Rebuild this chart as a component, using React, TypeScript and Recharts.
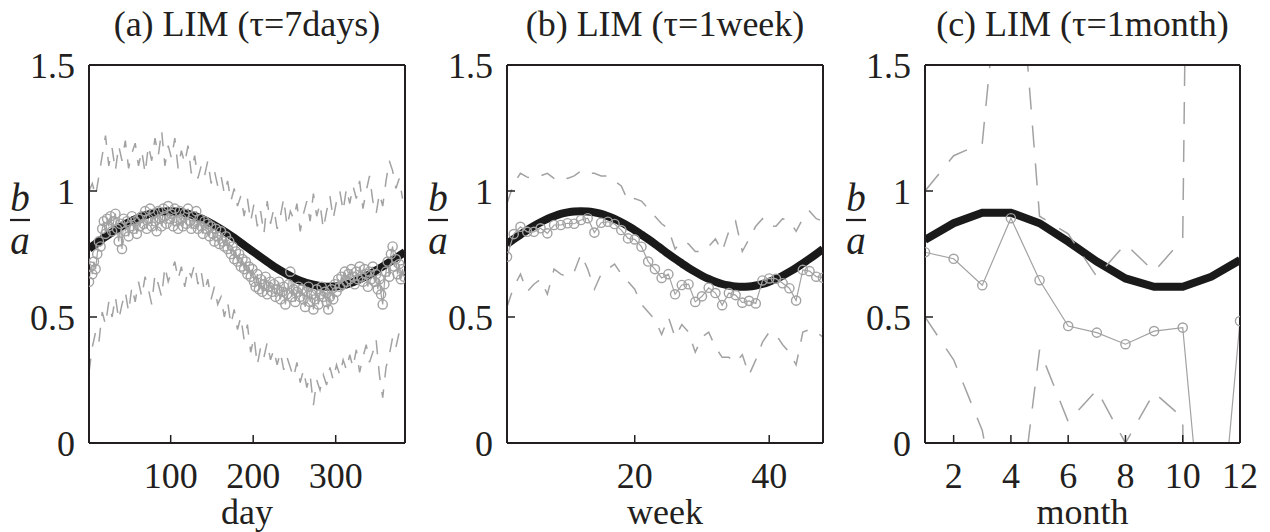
import React from 'react';
import { LineChart, Line, XAxis, YAxis, Label } from 'recharts';

const INK = '#231f20';
const GREY = '#a2a2a2';
const FONT = '"Liberation Serif", "Times New Roman", serif';
const Y_TICKS = [0, 0.5, 1, 1.5];

// (a) tau = 7 days: observed ratio every 2nd day, spread every 4th day
const aObsStep = 2;
const aCircles = [
  0.64, 0.70, 0.67, 0.72, 0.69, 0.75, 0.80, 0.78, 0.85, 0.88, 0.83, 0.89, 0.86, 0.90, 0.84, 0.88,
  0.91, 0.85, 0.80, 0.87, 0.77, 0.89, 0.84, 0.88, 0.82, 0.86, 0.90, 0.85, 0.88, 0.83, 0.89, 0.86,
  0.90, 0.87, 0.92, 0.85, 0.89, 0.93, 0.86, 0.91, 0.88, 0.84, 0.92, 0.89, 0.86, 0.93, 0.90, 0.87,
  0.94, 0.89, 0.91, 0.86, 0.93, 0.88, 0.85, 0.92, 0.89, 0.86, 0.91, 0.87, 0.93, 0.88, 0.85, 0.90,
  0.87, 0.92, 0.85, 0.89, 0.86, 0.83, 0.88, 0.85, 0.87, 0.82, 0.86, 0.83, 0.80, 0.85, 0.82, 0.79,
  0.84, 0.80, 0.78, 0.82, 0.77, 0.80, 0.75, 0.78, 0.73, 0.76, 0.72, 0.75, 0.70, 0.73, 0.69, 0.72,
  0.67, 0.70, 0.66, 0.69, 0.64, 0.62, 0.67, 0.61, 0.65, 0.60, 0.63, 0.66, 0.59, 0.62, 0.64, 0.60,
  0.63, 0.58, 0.61, 0.64, 0.57, 0.60, 0.62, 0.55, 0.59, 0.63, 0.68, 0.58, 0.61, 0.56, 0.60, 0.62,
  0.58, 0.61, 0.57, 0.54, 0.60, 0.62, 0.56, 0.59, 0.53, 0.57, 0.61, 0.55, 0.59, 0.62, 0.58, 0.60,
  0.56, 0.53, 0.58, 0.61, 0.57, 0.63, 0.60, 0.65, 0.62, 0.66, 0.63, 0.68, 0.64, 0.67, 0.65, 0.69,
  0.66, 0.63, 0.68, 0.65, 0.70, 0.66, 0.64, 0.69, 0.67, 0.62, 0.68, 0.65, 0.70, 0.64, 0.67, 0.61,
  0.65, 0.59, 0.55, 0.63, 0.68, 0.72, 0.66, 0.75, 0.78, 0.70, 0.73, 0.67, 0.71, 0.65, 0.69, 0.66,
];
const aBandStep = 4;
const aUpper = [
  1.00, 1.03, 0.98, 1.06, 1.14, 1.22, 1.10, 1.17, 1.08, 1.18, 1.12, 1.20,
  1.09, 1.15, 1.19, 1.10, 1.16, 1.07, 1.18, 1.12, 1.21, 1.14, 1.24, 1.10,
  1.18, 1.13, 1.21, 1.09, 1.16, 1.11, 1.18, 1.07, 1.14, 1.05, 1.10, 1.06,
  1.12, 1.03, 1.08, 1.02, 1.06, 0.99, 1.04, 0.96, 1.01, 0.94, 0.98, 0.90,
  0.97, 0.88, 0.95, 0.86, 0.92, 0.83, 0.96, 0.87, 0.93, 0.85, 0.90, 0.97,
  0.86, 0.92, 0.89, 0.95, 0.84, 0.91, 0.96, 0.88, 0.99, 0.90, 0.95, 0.85,
  0.92, 0.98, 0.89, 0.96, 1.00, 0.92, 1.01, 0.95, 1.02, 0.97, 1.04, 0.93,
  1.00, 1.06, 0.96, 0.91, 0.99, 0.94, 1.04, 1.12, 1.08, 1.01, 1.05, 0.97,
];
const aLower = [
  0.28, 0.38, 0.44, 0.40, 0.52, 0.47, 0.56, 0.50, 0.58, 0.49, 0.55, 0.60,
  0.52, 0.62, 0.56, 0.64, 0.58, 0.66, 0.61, 0.55, 0.67, 0.63, 0.58, 0.70,
  0.64, 0.68, 0.72, 0.65, 0.70, 0.62, 0.69, 0.66, 0.71, 0.63, 0.68, 0.60,
  0.65, 0.57, 0.62, 0.55, 0.58, 0.50, 0.56, 0.47, 0.53, 0.45, 0.50, 0.41,
  0.47, 0.36, 0.42, 0.31, 0.38, 0.34, 0.40, 0.33, 0.37, 0.31, 0.36, 0.29,
  0.34, 0.30, 0.26, 0.32, 0.24, 0.29, 0.22, 0.27, 0.15, 0.25, 0.21, 0.27,
  0.23, 0.30, 0.25, 0.31, 0.27, 0.33, 0.29, 0.35, 0.30, 0.37, 0.28, 0.34,
  0.39, 0.32, 0.36, 0.41, 0.27, 0.18, 0.30, 0.35, 0.42, 0.38, 0.44, 0.47,
];
const aFitDays = [1, 17, 33, 49, 65, 81, 97, 113, 129, 145, 161, 177, 193, 209, 225, 241, 257, 273, 289, 305, 321, 337, 353, 369, 384];
const aFit = [0.771, 0.809, 0.845, 0.876, 0.899, 0.914, 0.92, 0.916, 0.902, 0.879, 0.849, 0.814, 0.776, 0.738, 0.701, 0.67, 0.644, 0.628, 0.62, 0.623, 0.638, 0.662, 0.693, 0.726, 0.758];

// (b) tau = 1 week
const bCircles = [
  0.739, 0.829, 0.858, 0.838, 0.838, 0.852, 0.832, 0.865, 0.865, 0.872, 0.87, 0.885,
  0.892, 0.835, 0.874, 0.878, 0.869, 0.845, 0.812, 0.808, 0.779, 0.72, 0.69, 0.655,
  0.67, 0.59, 0.627, 0.63, 0.56, 0.582, 0.616, 0.595, 0.547, 0.595, 0.587, 0.557,
  0.564, 0.554, 0.645, 0.653, 0.652, 0.634, 0.614, 0.565, 0.687, 0.682, 0.66, 0.656,
];
const bUpper = [
  0.95, 1.03, 1.07, 1.055, 1.05, 1.06, 1.07, 1.05, 1.06, 1.05, 1.06, 1.08,
  1.07, 1.07, 1.06, 1.06, 1.04, 1.02, 0.96, 0.97, 0.96, 0.93, 0.9, 0.87,
  0.85, 0.77, 0.8, 0.79, 0.76, 0.76, 0.78, 0.81, 0.76, 0.84, 0.88, 0.76,
  0.81, 0.86, 0.89, 0.86, 0.86, 0.89, 0.88, 0.84, 0.89, 0.92, 0.89, 0.88,
];
const bLower = [
  0.54, 0.62, 0.67, 0.6, 0.63, 0.65, 0.59, 0.69, 0.67, 0.66, 0.68, 0.75,
  0.69, 0.61, 0.67, 0.69, 0.71, 0.67, 0.64, 0.61, 0.55, 0.52, 0.49, 0.43,
  0.5, 0.42, 0.47, 0.44, 0.36, 0.42, 0.44, 0.38, 0.34, 0.34, 0.32, 0.35,
  0.27, 0.33, 0.4, 0.44, 0.43, 0.39, 0.36, 0.31, 0.44, 0.45, 0.44, 0.42,
];
const bFit = [
  0.79, 0.809, 0.827, 0.845, 0.861, 0.876, 0.889, 0.9, 0.909, 0.915, 0.919, 0.92,
  0.919, 0.915, 0.909, 0.9, 0.889, 0.876, 0.861, 0.845, 0.827, 0.809, 0.79, 0.77,
  0.75, 0.731, 0.713, 0.695, 0.679, 0.664, 0.651, 0.64, 0.631, 0.625, 0.621, 0.62,
  0.621, 0.625, 0.631, 0.64, 0.651, 0.664, 0.679, 0.695, 0.713, 0.731, 0.75, 0.77,
];

// (c) tau = 1 month
const cMonths = [1, 2, 3, 4, 5, 6, 7, 8, 9, 10, 11, 12];
const cCircles = [0.757, 0.731, 0.626, 0.892, 0.646, 0.464, 0.438, 0.392, 0.444, 0.458, -0.77, 0.484];
const cUpper = [1.0, 1.14, 1.19, 2.35, 0.9, 0.83, 0.66, 0.79, 0.68, 0.81, 10.5, 1.4];
const cLower = [0.5, 0.33, 0.05, -0.55, 0.37, 0.085, 0.21, 0.0, 0.2, 0.1, -12, -0.44];
const cFit = [0.806, 0.872, 0.914, 0.914, 0.872, 0.799, 0.72, 0.653, 0.62, 0.62, 0.66, 0.726];

const aObsRows = aCircles.map((obs, i) => ({ x: 1 + i * aObsStep, obs }));
const aBandRows = aUpper.map((hi, i) => ({ x: 1 + i * aBandStep, hi, lo: aLower[i] }));
const aFitRows = aFitDays.map((x, i) => ({ x, fit: aFit[i] }));
const bRows = bCircles.map((obs, i) => ({ x: i + 1, obs, hi: bUpper[i], lo: bLower[i], fit: bFit[i] }));
const cRows = cMonths.map((x, i) => ({ x, obs: cCircles[i], hi: cUpper[i], lo: cLower[i], fit: cFit[i] }));

type Row = { x: number; [k: string]: number };

interface PanelProps {
  left: number;
  plotLeft: number;
  plotRight: number;
  title: string;
  xLabel: string;
  xDomain: [number, number];
  xTicks: number[];
  rows: Row[];
  obsRows?: Row[];
  bandRows?: Row[];
  fitRows?: Row[];
  fitType: 'linear' | 'monotone';
  fitOnTop: boolean;
  dash: string;
}

const CHART_W = 440;
const Y_AXIS_W = 89;

function Panel(props: PanelProps) {
  const { left, plotLeft, plotRight, title, xLabel, xDomain, xTicks, rows, obsRows, bandRows, fitRows, fitType, fitOnTop, dash } = props;
  const textStyle = { fill: INK, fontSize: 36, fontFamily: FONT };
  const axisLine = { stroke: INK, strokeWidth: 2 };
  const tickLine = { stroke: INK, strokeWidth: 1.5 };
  // left edge of this chart sits so that the y axis strip ends at plotLeft
  const rightMargin = CHART_W - (plotRight - left) - 1;

  const fitLine = (
    <Line
      key="fit"
      xAxisId="b"
      yAxisId="l"
      data={fitRows}
      dataKey="fit"
      type={fitType}
      stroke="#1a1a1a"
      strokeWidth={8}
      dot={false}
      activeDot={false}
      isAnimationActive={false}
    />
  );

  return (
    <div style={{ position: 'absolute', left, top: 0 }}>
      <LineChart
        width={CHART_W}
        height={532}
        data={rows}
        margin={{ top: 64, right: rightMargin, bottom: 0, left: plotLeft - left - Y_AXIS_W }}
      >
        <XAxis
          xAxisId="b"
          dataKey="x"
          type="number"
          domain={xDomain}
          ticks={xTicks}
          interval={0}
          allowDataOverflow
          height={89}
          tickSize={-8}
          tickMargin={27}
          axisLine={axisLine}
          tickLine={tickLine}
          tick={textStyle}
        >
          <Label
            content={({ viewBox }: any) => (
              <text x={viewBox.x + viewBox.width / 2} y={524} textAnchor="middle" {...textStyle}>
                {xLabel}
              </text>
            )}
          />
        </XAxis>
        <XAxis
          xAxisId="t"
          orientation="top"
          dataKey="x"
          type="number"
          domain={xDomain}
          ticks={xTicks}
          interval={0}
          allowDataOverflow
          height={1}
          tickSize={-8}
          tick={false}
          axisLine={axisLine}
          tickLine={tickLine}
        >
          <Label
            content={({ viewBox }: any) => (
              <text x={viewBox.x + viewBox.width / 2} y={36} textAnchor="middle" {...textStyle}>
                {title}
              </text>
            )}
          />
        </XAxis>
        <YAxis
          yAxisId="l"
          type="number"
          domain={[0, 1.5]}
          ticks={Y_TICKS}
          interval={0}
          allowDataOverflow
          width={Y_AXIS_W}
          tickSize={-8}
          tickMargin={22}
          axisLine={axisLine}
          tickLine={tickLine}
          tick={textStyle}
        >
          <Label
            content={({ viewBox }: any) => {
              const cx = viewBox.x + viewBox.width - 69;
              return (
                <g>
                  <text x={cx} y={211} textAnchor="middle" fontStyle="italic" {...textStyle} fontSize={39}>b</text>
                  <line x1={cx - 10} x2={cx + 10} y1={220} y2={220} stroke={INK} strokeWidth={2.2} />
                  <text x={cx} y={254} textAnchor="middle" fontStyle="italic" {...textStyle} fontSize={39}>a</text>
                </g>
              );
            }}
          />
        </YAxis>
        <YAxis
          yAxisId="r"
          orientation="right"
          type="number"
          domain={[0, 1.5]}
          ticks={Y_TICKS}
          interval={0}
          allowDataOverflow
          width={1}
          tickSize={-8}
          tick={false}
          axisLine={axisLine}
          tickLine={tickLine}
        />

        {!fitOnTop && fitLine}
        {/* the upper band runs on the top/right axes (same scales) so the box is drawn */}
        <Line
          xAxisId="t"
          yAxisId="r"
          data={bandRows}
          dataKey="hi"
          type="linear"
          stroke={GREY}
          strokeWidth={1.5}
          strokeDasharray={dash}
          dot={false}
          activeDot={false}
          isAnimationActive={false}
        />
        <Line
          xAxisId="b"
          yAxisId="l"
          data={bandRows}
          dataKey="lo"
          type="linear"
          stroke={GREY}
          strokeWidth={1.5}
          strokeDasharray={dash}
          dot={false}
          activeDot={false}
          isAnimationActive={false}
        />
        <Line
          xAxisId="b"
          yAxisId="l"
          data={obsRows}
          dataKey="obs"
          type="linear"
          stroke={GREY}
          strokeWidth={1.2}
          dot={{ r: 4.6, stroke: GREY, strokeWidth: 1.4, fill: 'none' }}
          activeDot={false}
          isAnimationActive={false}
        />
        {fitOnTop && fitLine}
      </LineChart>
    </div>
  );
}

export default function App() {
  return (
    <div style={{ position: 'absolute', left: 0, top: 0, width: 1270, height: 532, background: '#fff', overflow: 'hidden' }}>
      <Panel
        left={0}
        plotLeft={89}
        plotRight={405}
        title="(a) LIM (τ=7days)"
        xLabel="day"
        xDomain={[1, 384]}
        xTicks={[100, 200, 300]}
        rows={aObsRows}
        obsRows={aObsRows}
        bandRows={aBandRows}
        fitRows={aFitRows}
        fitType="monotone"
        fitOnTop
        dash="14 12"
      />
      <Panel
        left={418}
        plotLeft={507}
        plotRight={823}
        title="(b) LIM (τ=1week)"
        xLabel="week"
        xDomain={[1, 48]}
        xTicks={[20, 40]}
        rows={bRows}
        fitType="monotone"
        fitOnTop={false}
        dash="15 13"
      />
      <Panel
        left={830}
        plotLeft={925}
        plotRight={1240}
        title="(c) LIM (τ=1month)"
        xLabel="month"
        xDomain={[1, 12]}
        xTicks={[2, 4, 6, 8, 10, 12]}
        rows={cRows}
        fitType="linear"
        fitOnTop={false}
        dash="22 16"
      />
    </div>
  );
}
